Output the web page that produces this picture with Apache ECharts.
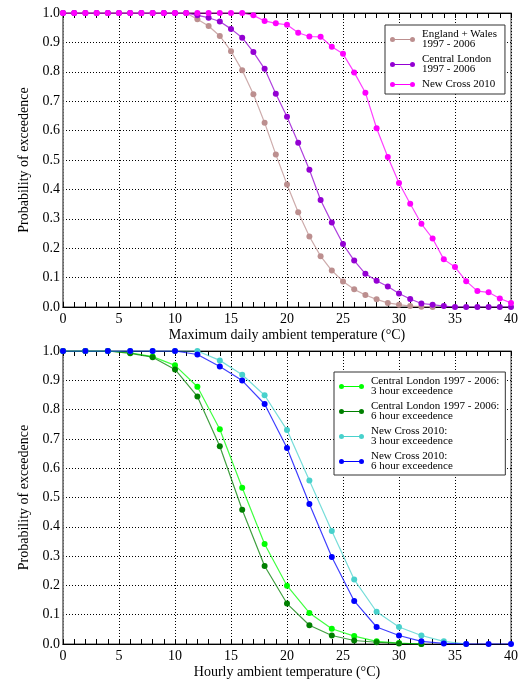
<!DOCTYPE html>
<html>
<head>
<meta charset="utf-8">
<script src="https://cdn.jsdelivr.net/npm/echarts@6/dist/echarts.min.js"></script>
<style>
  html, body { margin: 0; padding: 0; background: #fff; }
  #chart { width: 521px; height: 680px; }
</style>
</head>
<body>
<div id="chart"></div>
<script>
// daily maximum temperatures, 1 degree steps
const dailyTemps = [0, 1, 2, 3, 4, 5, 6, 7, 8, 9, 10, 11, 12, 13, 14, 15, 16, 17, 18, 19, 20,
  21, 22, 23, 24, 25, 26, 27, 28, 29, 30, 31, 32, 33, 34, 35, 36, 37, 38, 39, 40];
const englandWales = [1, 1, 1, 1, 1, 1, 1, 1, 1, 1, 1, 1.0, 0.979, 0.956, 0.922, 0.870, 0.805, 0.724, 0.627, 0.519, 0.417,
  0.322, 0.240, 0.173, 0.124, 0.087, 0.060, 0.041, 0.026, 0.014, 0.008, 0.003, 0.001, 0];
const centralLondonDaily = [1, 1, 1, 1, 1, 1, 1, 1, 1, 1, 1, 1.0, 0.992, 0.984, 0.971, 0.946, 0.916, 0.867, 0.810, 0.725, 0.647,
  0.559, 0.467, 0.364, 0.287, 0.214, 0.158, 0.113, 0.089, 0.070, 0.046, 0.027, 0.012, 0.008, 0.003, 0, 0, 0, 0, 0, 0];
const newCrossDaily = [1, 1, 1, 1, 1, 1, 1, 1, 1, 1, 1, 1, 1, 1, 1, 1, 1, 0.992, 0.973, 0.965, 0.960,
  0.933, 0.920, 0.919, 0.885, 0.861, 0.798, 0.729, 0.608, 0.510, 0.422, 0.351, 0.283, 0.233, 0.162, 0.136, 0.088, 0.054, 0.050, 0.029, 0.014];

// hourly temperatures, 2 degree steps
const hourlyTemps = [0, 2, 4, 6, 8, 10, 12, 14, 16, 18, 20, 22, 24, 26, 28, 30, 32, 34, 36, 38, 40];
const clHour3 = [1, 1, 1, 0.994, 0.981, 0.951, 0.878, 0.733, 0.533, 0.341, 0.199, 0.106, 0.052, 0.027, 0.009, 0.003, 0];
const clHour6 = [1, 1, 1, 0.992, 0.979, 0.937, 0.845, 0.675, 0.458, 0.266, 0.138, 0.064, 0.029, 0.012, 0.006, 0.002, 0];
const ncHour3 = [1, 1, 1, 1, 1, 1, 1.0, 0.968, 0.919, 0.849, 0.730, 0.558, 0.386, 0.220, 0.110, 0.058, 0.029, 0.009, 0];
const ncHour6 = [1, 1, 1, 1, 1, 1, 0.988, 0.947, 0.899, 0.819, 0.669, 0.478, 0.297, 0.147, 0.058, 0.029, 0.009, 0.002, 0, 0, 0];

const topNames = ['England + Wales\n1997 - 2006', 'Central London\n1997 - 2006', 'New Cross 2010'];
const topColors = ['#bc8f8f', '#9400d3', '#ff00ff'];
const bottomNames = ['Central London 1997 - 2006:\n3 hour exceedence', 'Central London 1997 - 2006:\n6 hour exceedence',
  'New Cross 2010:\n3 hour exceedence', 'New Cross 2010:\n6 hour exceedence'];
const bottomColors = ['#00ff00', '#008000', '#48d1cc', '#0000ff'];

const FONT = 'Liberation Serif';
const legendIcon = 'path://M2,3.4 L23,3.4 L23,4.6 L2,4.6 Z M0,4 A2.5,2.5 0 1,1 5,4 A2.5,2.5 0 1,1 0,4 Z M20,4 A2.5,2.5 0 1,1 25,4 A2.5,2.5 0 1,1 20,4 Z';

const zip = (xs, ys) => ys.map((y, i) => [xs[i], y]);

const makeSeries = (name, xs, ys, color, idx) => ({
  name: name,
  type: 'line',
  xAxisIndex: idx,
  yAxisIndex: idx,
  data: zip(xs, ys),
  symbol: 'circle',
  symbolSize: 6,
  itemStyle: { color: color, borderWidth: 0 },
  lineStyle: { color: color, width: 1.2, opacity: 0.75 },
  emphasis: { disabled: true },
  animation: false,
});

const xAxisBase = (idx, name) => ({
  gridIndex: idx,
  type: 'value',
  min: 0,
  max: 40,
  interval: 5,
  name: name,
  nameLocation: 'middle',
  nameGap: 21,
  nameTextStyle: { fontFamily: FONT, fontSize: 14, color: '#000' },
  axisLine: { lineStyle: { color: '#000', width: 1 } },
  axisTick: { inside: true, length: 5, lineStyle: { color: '#000' } },
  minorTick: { show: true, splitNumber: 5, length: 5, lineStyle: { color: '#000' } },
  splitLine: { show: true, lineStyle: { color: '#000', type: [1, 2], width: 1 } },
  axisLabel: { fontFamily: FONT, fontSize: 14, color: '#000', margin: 5 },
});

const xAxisTop = (idx) => ({
  gridIndex: idx,
  type: 'value',
  position: 'top',
  min: 0,
  max: 40,
  interval: 5,
  axisLine: { lineStyle: { color: '#000', width: 1 } },
  axisTick: { inside: true, length: 5, lineStyle: { color: '#000' } },
  minorTick: { show: true, splitNumber: 5, length: 5, lineStyle: { color: '#000' } },
  splitLine: { show: false },
  axisLabel: { show: false },
});

const yAxisBase = (idx) => ({
  gridIndex: idx,
  type: 'value',
  min: 0,
  max: 1,
  interval: 0.1,
  name: 'Probability of exceedence',
  nameLocation: 'middle',
  nameGap: 28,
  nameTextStyle: { fontFamily: FONT, fontSize: 14, color: '#000' },
  axisLine: { show: true, lineStyle: { color: '#808080', width: 1.5 } },
  axisTick: { show: false },
  splitLine: { show: true, lineStyle: { color: '#000', type: [1, 2], width: 1 } },
  axisLabel: { fontFamily: FONT, fontSize: 14, color: '#000', margin: 3, formatter: v => v.toFixed(1) },
});

const legendBase = {
  orient: 'vertical',
  backgroundColor: '#fff',
  borderColor: '#333',
  borderWidth: 1,
  borderRadius: 0,
  itemWidth: 25,
  itemHeight: 8,
  itemGap: 4,
  textStyle: { fontFamily: FONT, fontSize: 11, color: '#000', lineHeight: 10, padding: [0, 0, 0, 2] },
};

const legendData = (names, colors) => names.map((n, i) => ({
  name: n,
  icon: legendIcon,
  itemStyle: { color: colors[i], borderWidth: 0, opacity: 1 },
}));

const myChart = echarts.init(document.getElementById('chart'), null, { renderer: 'canvas' });

const option = {
  backgroundColor: '#fff',
  animation: false,
  grid: [
    { left: 63, right: 7, top: 13, height: 294, show: true, borderColor: '#808080', borderWidth: 1.5, backgroundColor: 'transparent' },
    { left: 63, right: 7, top: 351, height: 295, show: true, borderColor: '#808080', borderWidth: 1.5, backgroundColor: 'transparent' },
  ],
  legend: [
    Object.assign({}, legendBase, { data: legendData(topNames, topColors), left: 385, top: 25, padding: [4, 8, 4, 5] }),
    Object.assign({}, legendBase, { data: legendData(bottomNames, bottomColors), left: 334, top: 372, padding: [4, 6, 3, 5] }),
  ],
  xAxis: [
    xAxisBase(0, 'Maximum daily ambient temperature (°C)'),
    xAxisBase(1, 'Hourly ambient temperature (°C)'),
    xAxisTop(0),
    xAxisTop(1),
  ],
  yAxis: [yAxisBase(0), yAxisBase(1)],
  series: [
    makeSeries(topNames[0], dailyTemps, englandWales, topColors[0], 0),
    makeSeries(topNames[1], dailyTemps, centralLondonDaily, topColors[1], 0),
    makeSeries(topNames[2], dailyTemps, newCrossDaily, topColors[2], 0),
    makeSeries(bottomNames[0], hourlyTemps, clHour3, bottomColors[0], 1),
    makeSeries(bottomNames[1], hourlyTemps, clHour6, bottomColors[1], 1),
    makeSeries(bottomNames[2], hourlyTemps, ncHour3, bottomColors[2], 1),
    makeSeries(bottomNames[3], hourlyTemps, ncHour6, bottomColors[3], 1),
  ],
};

myChart.setOption(option);
window.addEventListener('resize', myChart.resize);
</script>
</body>
</html>
